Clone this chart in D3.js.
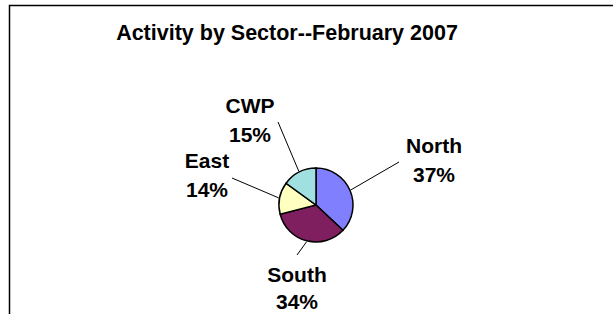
<!DOCTYPE html>
<html>
<head>
<script src="https://d3js.org/d3.v7.min.js"></script>
<style>
  body { margin: 0; background: #fff; }
  text { font-family: "Liberation Sans", Arial, sans-serif; font-weight: bold; fill: #000; }
</style>
</head>
<body>
<script>
  // data
  const sectors = ["North", "South", "East", "CWP"];
  const shares = [37, 34, 14, 15];
  const sectorColors = ["#8080FF", "#7F1F5F", "#FFFFC0", "#A0E0E0"];
  const title = "Activity by Sector--February 2007";

  // label layout: text centre / first baseline, line gap, leader line end
  const labelPos = {
    North: {x: 434, y: 153, gap: 29, lx: 399, ly: 162},
    South: {x: 297, y: 282, gap: 27, lx: 297, ly: 255},
    East:  {x: 207, y: 168, gap: 29, lx: 232, ly: 178},
    CWP:   {x: 250, y: 113, gap: 29, lx: 278, ly: 122}
  };

  const width = 613, height = 314;
  const cx = 316, cy = 205, radius = 37;

  const svg = d3.select("body").append("svg")
      .attr("width", width)
      .attr("height", height);

  // chart area frame
  svg.append("rect")
      .attr("x", 9.5)
      .attr("y", 5.5)
      .attr("width", 800)
      .attr("height", 500)
      .attr("fill", "#fff")
      .attr("stroke", "#000")
      .attr("stroke-width", 1.5);

  svg.append("text")
      .attr("x", 287)
      .attr("y", 40)
      .attr("text-anchor", "middle")
      .style("font-size", "21.5px")
      .text(title);

  let data = sectors.map((s, i) => ({name: s, value: shares[i], color: sectorColors[i]}));

  let pie = d3.pie()
      .sort(null)
      .value(d => d.value);

  let arc = d3.arc()
      .innerRadius(0)
      .outerRadius(radius);

  let arcs = pie(data);

  let g = svg.append("g")
      .attr("transform", `translate(${cx},${cy})`);

  g.selectAll("path")
      .data(arcs)
      .join("path")
      .attr("d", arc)
      .attr("fill", d => d.data.color)
      .attr("stroke", "#000")
      .attr("stroke-width", 1.5);

  // leader lines + labels
  arcs.forEach(a => {
    let mid = (a.startAngle + a.endAngle) / 2;
    let p = labelPos[a.data.name];
    let sx = cx + Math.sin(mid) * (radius + 1);
    let sy = cy - Math.cos(mid) * (radius + 1);

    svg.append("line")
        .attr("x1", sx)
        .attr("y1", sy)
        .attr("x2", p.lx)
        .attr("y2", p.ly)
        .attr("stroke", "#000")
        .attr("stroke-width", 1);

    let t = svg.append("text")
        .attr("text-anchor", "middle")
        .style("font-size", "21px");
    t.append("tspan")
        .attr("x", p.x)
        .attr("y", p.y)
        .text(a.data.name);
    t.append("tspan")
        .attr("x", p.x)
        .attr("y", p.y + p.gap)
        .text(a.data.value + "%");
  });
</script>
</body>
</html>
